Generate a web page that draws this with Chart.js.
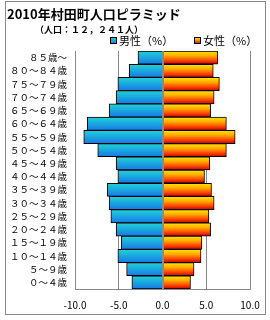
<!DOCTYPE html>
<html>
<head>
<meta charset="utf-8">
<script src="https://cdn.jsdelivr.net/npm/chart.js@4"></script>
<style>
  html, body { margin: 0; padding: 0; background: #fff; }
  canvas { display: block; }
</style>
</head>
<body>
<canvas id="pyramid" width="270" height="320"></canvas>
<script>
// 年齢階級（上から順）
const ageLabels = ['８５歳～', '８０～８４歳', '７５～７９歳', '７０～７４歳', '６５～６９歳', '６０～６４歳',
  '５５～５９歳', '５０～５４歳', '４５～４９歳', '４０～４４歳', '３５～３９歳', '３０～３４歳',
  '２５～２９歳', '２０～２４歳', '１５～１９歳', '１０～１４歳', '５～９歳', '０～４歳'];
// 男性は左側に描くので負の値
const maleValues = [-2.8, -3.8, -5.1, -5.3, -6.1, -8.6, -9.0, -7.4, -5.3, -5.1, -6.3, -6.1, -5.9, -5.3, -4.7, -5.1, -4.1, -3.5];
const femaleValues = [6.3, 5.8, 6.5, 5.9, 5.5, 7.3, 8.3, 7.3, 5.4, 4.8, 5.6, 5.9, 5.3, 5.5, 4.5, 4.4, 3.6, 3.2];
const xTicks = [-10, -5, 0, 5, 10];
const seriesNames = ['男性（%）', '女性（%）'];
const titleText = '2010年村田町人口ピラミッド';
const subtitleText = '（人口：１２，２４１人）';

const maleStops = [[0, '#22d2d4'], [0.5, '#1aa6e0'], [1, '#1778e6']];
const femaleStops = [[0, '#ffe600'], [0.35, '#ffae00'], [0.7, '#ff4a00'], [1, '#c80000']];
const gridColor = '#8a8a8a';
const jp = '"Noto Sans CJK JP", sans-serif';

function barGradient(stops) {
  return (c) => {
    const chart = c.chart;
    const y = chart.scales.y;
    if (c.type !== 'data' || !y || !chart.chartArea) return stops[1][1];
    const mid = y.getPixelForValue(c.dataIndex);
    const half = (chart.chartArea.bottom - chart.chartArea.top) / ageLabels.length / 2;
    const g = chart.ctx.createLinearGradient(0, mid - half, 0, mid + half);
    stops.forEach(([o, col]) => g.addColorStop(o, col));
    return g;
  };
}

// 外枠と白背景
const frame = {
  id: 'frame',
  beforeDraw(chart) {
    const ctx = chart.ctx;
    ctx.save();
    ctx.fillStyle = '#fff';
    ctx.fillRect(0, 0, chart.width, chart.height);
    ctx.strokeStyle = gridColor;
    ctx.lineWidth = 1;
    ctx.strokeRect(5.5, 1.5, 260, 313);
    ctx.restore();
  }
};

// 0 の縦線は棒の上に描く
const zeroLine = {
  id: 'zeroLine',
  afterDatasetsDraw(chart) {
    const {ctx, chartArea, scales} = chart;
    const x = Math.round(scales.x.getPixelForValue(0)) + 0.5;
    ctx.save();
    ctx.strokeStyle = gridColor;
    ctx.lineWidth = 1;
    ctx.beginPath();
    ctx.moveTo(x, chartArea.top);
    ctx.lineTo(x, chartArea.bottom);
    ctx.stroke();
    ctx.restore();
  }
};

// タイトル・人口・凡例
const header = {
  id: 'header',
  afterDraw(chart) {
    const ctx = chart.ctx;
    ctx.save();
    ctx.fillStyle = '#000';
    ctx.textAlign = 'left';
    ctx.textBaseline = 'middle';
    ctx.font = 'bold 13px ' + jp;
    ctx.fillText(titleText, 7, 14);
    ctx.font = 'bold 9px ' + jp;
    ctx.fillText(subtitleText, 35, 30);

    ctx.font = '11px ' + jp;
    [[110, maleStops], [194, femaleStops]].forEach(([bx, stops], i) => {
      const g = ctx.createLinearGradient(0, 37, 0, 44);
      stops.forEach(([o, col]) => g.addColorStop(o, col));
      ctx.fillStyle = g;
      ctx.fillRect(bx, 37, 7, 7);
      ctx.strokeStyle = '#000';
      ctx.lineWidth = 1;
      ctx.strokeRect(bx + 0.5, 37.5, 6, 6);
      ctx.fillStyle = '#000';
      ctx.fillText(seriesNames[i], bx + 9, 41);
    });
    ctx.restore();
  }
};

new Chart(document.getElementById('pyramid'), {
  type: 'bar',
  data: {
    labels: ageLabels,
    datasets: [
      {
        label: seriesNames[0],
        data: maleValues,
        backgroundColor: barGradient(maleStops),
        borderColor: '#000',
        borderWidth: 1
      },
      {
        label: seriesNames[1],
        data: femaleValues,
        backgroundColor: barGradient(femaleStops),
        borderColor: '#000',
        borderWidth: 1
      }
    ]
  },
  options: {
    indexAxis: 'y',
    responsive: false,
    animation: false,
    devicePixelRatio: 1,
    barPercentage: 1,
    categoryPercentage: 1,
    layout: { padding: { left: 5, right: 20, top: 51, bottom: 6 } },
    plugins: {
      legend: { display: false },
      title: { display: false },
      tooltip: { enabled: false }
    },
    scales: {
      x: {
        stacked: true,
        min: -10,
        max: 10,
        afterBuildTicks: (s) => { s.ticks = xTicks.map(v => ({ value: v })); },
        afterFit: (s) => { s.height = 25; },
        grid: { color: gridColor, drawTicks: false },
        border: { color: gridColor },
        ticks: {
          padding: 10,
          color: '#000',
          font: { family: jp, size: 10 },
          callback: (v) => Number(v).toFixed(1)
        }
      },
      y: {
        stacked: true,
        afterFit: (s) => { s.width = 70; },
        grid: { display: false, drawTicks: false },
        border: { color: gridColor },
        ticks: {
          autoSkip: false,
          padding: 8,
          color: '#000',
          font: { family: jp, size: 9.5 }
        }
      }
    }
  },
  plugins: [frame, zeroLine, header]
});
</script>
</body>
</html>
